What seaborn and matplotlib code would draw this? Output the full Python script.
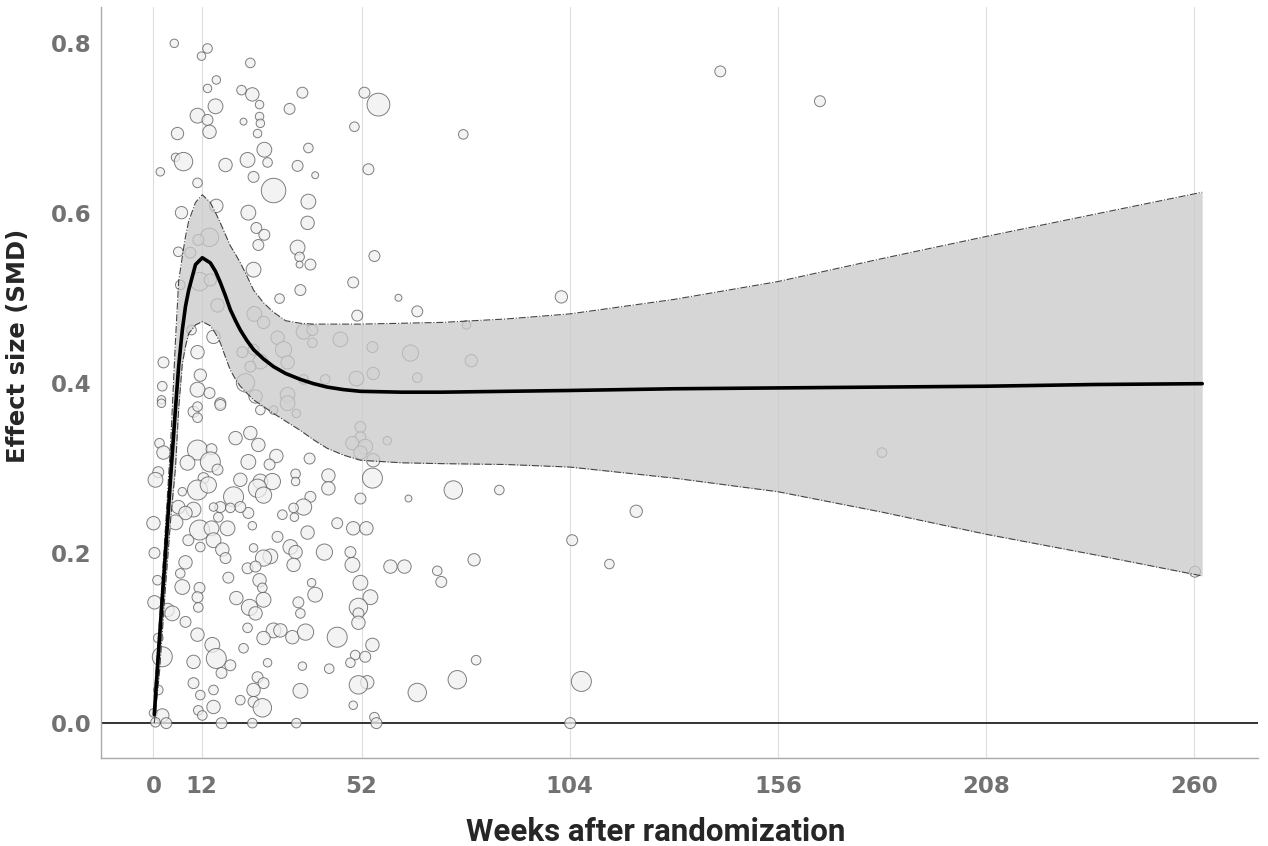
import numpy as np
import pandas as pd
import matplotlib
matplotlib.use('Agg')
import matplotlib.pyplot as plt
import seaborn as sns

# Study-level effect sizes (weeks, SMD, relative weight)
study_weeks = [
    5.2, 13.5, 12.0, 24.2, 15.7, 13.5, 22.0, 24.7, 26.5, 37.2, 15.5, 11.0, 13.5, 34.0, 52.7, 56.2,
    22.5, 26.5, 26.7, 14.0, 6.0, 50.2, 26.0, 27.7, 38.7, 5.5, 7.5, 18.0, 23.5, 28.5, 36.0, 1.7,
    53.7, 40.4, 25.0, 11.0, 30.0, 38.7, 15.7, 7.0, 23.7, 25.7, 38.5, 27.7, 14.0, 11.2, 26.2, 6.2,
    9.2, 36.0, 36.5, 39.2, 36.5, 55.2, 11.5, 14.2, 25.0, 6.7, 49.9, 36.7, 61.2, 31.5, 16.0, 25.2,
    50.9, 65.9, 27.5, 37.5, 39.7, 9.5, 15.0, 31.0, 46.7, 54.7, 64.2, 11.0, 22.2, 25.0, 32.5, 39.7,
    26.7, 24.2, 33.5, 2.5, 11.7, 50.7, 54.9, 2.2, 11.0, 14.0, 23.0, 25.5, 33.5, 37.5, 16.7, 2.0,
    42.9, 65.9, 10.0, 26.7, 30.0,
    2.0, 11.0, 16.7, 33.5, 35.7, 11.0, 1.5, 2.5, 11.0, 14.5, 14.2, 26.2, 24.2, 20.5, 30.7, 39.0,
    23.7, 29.0, 8.5, 1.2, 16.0, 12.5, 0.5, 7.2, 21.7, 26.7, 29.7, 35.5, 35.5, 43.7, 43.7, 51.7,
    54.7, 63.7, 58.4, 51.7, 51.7, 49.7, 52.9, 51.7, 54.9, 11.0, 13.7, 20.0, 26.0, 27.5, 39.2, 37.5,
    35.0, 32.2, 35.2, 16.7, 15.0, 10.0, 6.2, 8.0, 23.7, 21.7, 19.2, 16.2, 0.0, 5.5, 11.5, 14.5,
    18.5, 24.7, 31.0, 38.5, 45.9, 49.9, 53.2, 8.7, 11.7, 15.0, 17.2, 18.0, 25.0, 29.2, 27.5, 34.2,
    35.5, 35.0, 42.7, 49.2, 49.7, 59.2, 62.7, 0.25, 8.0, 6.7, 1.0, 7.2, 11.5, 18.7, 23.5, 25.5,
    26.5, 27.2, 39.5, 40.4, 51.7, 54.2, 51.2, 0.25, 11.0, 20.7, 27.5, 36.2, 3.5, 4.7, 11.2, 24.0,
    25.5, 36.7, 51.2, 8.0, 51.2, 23.5, 30.0, 31.7, 34.7, 38.0, 27.5, 45.9, 11.0, 1.2, 2.2, 14.7,
    22.5, 54.7, 50.4, 52.9, 10.0, 15.7, 19.2, 28.5, 37.2, 43.9, 49.2, 17.0, 53.4, 51.2, 26.0, 27.5,
    25.0, 1.2, 10.0, 11.7, 15.0, 36.7, 21.7, 25.0, 27.2, 49.9, 65.9, 11.2, 15.0, 0.0, 2.2, 55.2,
    55.7, 3.2, 17.0, 24.7, 35.7, 0.5, 12.2,
    78.2, 79.4, 101.9, 74.9, 86.4, 120.6, 104.6, 113.9, 70.9, 71.9, 80.1, 182.0, 260.2, 80.6, 75.9,
    106.9, 104.1, 77.4, 141.6, 166.5,
]
study_smd = [
    0.799, 0.793, 0.784, 0.776, 0.756, 0.746, 0.744, 0.739, 0.727, 0.741, 0.725, 0.714, 0.709, 0.722, 0.741, 0.727,
    0.707, 0.713, 0.705, 0.695, 0.693, 0.701, 0.693, 0.674, 0.676, 0.665, 0.660, 0.656, 0.662, 0.659, 0.655, 0.648,
    0.651, 0.644, 0.642, 0.635, 0.626, 0.613, 0.608, 0.600, 0.600, 0.582, 0.588, 0.574, 0.571, 0.568, 0.562, 0.554,
    0.553, 0.559, 0.548, 0.539, 0.539, 0.549, 0.519, 0.521, 0.533, 0.515, 0.518, 0.509, 0.500, 0.499, 0.491, 0.481,
    0.479, 0.484, 0.471, 0.460, 0.462, 0.462, 0.454, 0.453, 0.451, 0.442, 0.435, 0.436, 0.436, 0.439, 0.439, 0.447,
    0.425, 0.419, 0.424, 0.424, 0.409, 0.405, 0.411, 0.396, 0.392, 0.388, 0.400, 0.384, 0.386, 0.404, 0.376, 0.380,
    0.404, 0.406, 0.366, 0.368, 0.368,
    0.376, 0.372, 0.374, 0.376, 0.364, 0.359, 0.329, 0.318, 0.321, 0.322, 0.307, 0.327, 0.341, 0.335, 0.314, 0.311,
    0.307, 0.304, 0.306, 0.295, 0.298, 0.288, 0.286, 0.272, 0.286, 0.284, 0.284, 0.293, 0.284, 0.291, 0.276, 0.264,
    0.288, 0.264, 0.332, 0.348, 0.336, 0.329, 0.325, 0.318, 0.309, 0.274, 0.280, 0.266, 0.276, 0.268, 0.266, 0.254,
    0.253, 0.245, 0.242, 0.254, 0.254, 0.251, 0.254, 0.247, 0.247, 0.254, 0.253, 0.242, 0.235, 0.236, 0.227, 0.229,
    0.229, 0.232, 0.219, 0.224, 0.235, 0.229, 0.229, 0.215, 0.207, 0.215, 0.204, 0.194, 0.206, 0.196, 0.194, 0.207,
    0.201, 0.186, 0.201, 0.201, 0.186, 0.184, 0.184, 0.200, 0.189, 0.176, 0.168, 0.160, 0.159, 0.171, 0.182, 0.184,
    0.168, 0.159, 0.165, 0.151, 0.165, 0.148, 0.136, 0.142, 0.148, 0.147, 0.145, 0.142, 0.133, 0.129, 0.136, 0.136,
    0.129, 0.129, 0.129, 0.119, 0.118, 0.112, 0.109, 0.109, 0.101, 0.107, 0.100, 0.101, 0.104, 0.100, 0.078, 0.092,
    0.088, 0.092, 0.080, 0.078, 0.072, 0.076, 0.068, 0.071, 0.067, 0.064, 0.071, 0.059, 0.048, 0.045, 0.054, 0.047,
    0.039, 0.039, 0.047, 0.033, 0.039, 0.038, 0.027, 0.025, 0.018, 0.021, 0.036, 0.015, 0.019, 0.012, 0.009, 0.007,
    0.0, 0.0, 0.0, 0.0, 0.0, 0.001, 0.009,
    0.468, 0.426, 0.501, 0.274, 0.274, 0.249, 0.215, 0.187, 0.179, 0.166, 0.192, 0.318, 0.178, 0.074, 0.051,
    0.049, 0.0, 0.692, 0.766, 0.731,
]
study_weight = [
    18, 23, 18, 23, 18, 18, 23, 45, 18, 30, 55, 55, 30, 30, 30, 130,
    12, 18, 18, 45, 38, 23, 18, 55, 23, 18, 85, 45, 55, 23, 30, 18,
    30, 12, 30, 23, 150, 55, 45, 38, 55, 30, 45, 30, 85, 30, 30, 23,
    30, 55, 23, 30, 12, 30, 85, 38, 55, 23, 30, 30, 12, 23, 45, 55,
    30, 30, 38, 55, 30, 23, 45, 45, 55, 30, 66, 45, 30, 30, 66, 23,
    55, 30, 45, 30, 38, 55, 38, 23, 55, 30, 85, 45, 55, 23, 30, 18,
    23, 23, 30, 23, 18,
    18, 23, 30, 55, 18, 23, 23, 45, 100, 30, 100, 45, 45, 45, 45, 30,
    55, 30, 55, 30, 30, 30, 55, 18, 45, 55, 66, 23, 18, 45, 45, 30,
    100, 12, 18, 30, 30, 45, 55, 45, 45, 100, 66, 100, 85, 66, 30, 66,
    23, 23, 18, 30, 18, 55, 45, 45, 30, 30, 23, 23, 45, 55, 100, 55,
    55, 18, 30, 45, 30, 45, 45, 30, 23, 55, 45, 30, 18, 55, 66, 55,
    45, 45, 66, 30, 55, 45, 45, 30, 45, 23, 23, 55, 30, 30, 30, 30,
    45, 23, 18, 55, 55, 55, 85, 45, 30, 45, 55, 30, 45, 55, 23, 66,
    45, 23, 30, 30, 45, 23, 55, 45, 45, 66, 45, 100, 45, 23, 100, 55,
    23, 45, 23, 30, 45, 100, 30, 18, 18, 23, 23, 30, 45, 85, 30, 30,
    45, 23, 30, 23, 23, 55, 23, 30, 85, 18, 85, 23, 45, 18, 45, 23,
    30, 30, 30, 23, 23, 23, 23,
    18, 38, 38, 85, 23, 38, 30, 23, 23, 30, 38, 23, 30, 23, 85,
    100, 30, 23, 30, 30,
]

# Fitted spline with confidence band
fit_weeks = [0.2, 1.5, 3.0, 4.3, 5.5, 6.3, 7.2, 8.0, 8.8, 10.5, 12.2, 14.2, 15.5, 16.7, 18.0, 19.2,
             20.5, 21.7, 23.3, 25, 27.5, 30, 33, 36.7, 40, 43.4, 47.5, 51.7, 62, 72, 88, 104,
             130, 156, 182, 208, 235, 262]
fit_smd = [0.01, 0.10, 0.20, 0.29, 0.37, 0.42, 0.462, 0.49, 0.509, 0.539, 0.547, 0.541, 0.531, 0.518,
           0.502, 0.486, 0.473, 0.462, 0.450, 0.439, 0.428, 0.419, 0.411, 0.404, 0.399, 0.395, 0.392,
           0.390, 0.389, 0.389, 0.390, 0.391, 0.393, 0.394, 0.395, 0.396, 0.398, 0.399]
fit_upper = [0.03, 0.12, 0.23, 0.33, 0.45, 0.52, 0.548, 0.572, 0.59, 0.612, 0.621, 0.612, 0.60, 0.588,
             0.574, 0.561, 0.551, 0.541, 0.526, 0.509, 0.494, 0.483, 0.473, 0.470, 0.469, 0.469, 0.469,
             0.469, 0.470, 0.471, 0.475, 0.481, 0.498, 0.519, 0.546, 0.572, 0.598, 0.624]
fit_lower = [0.0, 0.06, 0.16, 0.24, 0.30, 0.37, 0.422, 0.443, 0.458, 0.468, 0.472, 0.467, 0.458, 0.447,
             0.430, 0.415, 0.404, 0.396, 0.388, 0.380, 0.372, 0.364, 0.355, 0.344, 0.333, 0.323, 0.315,
             0.309, 0.306, 0.305, 0.304, 0.301, 0.288, 0.272, 0.248, 0.222, 0.198, 0.173]

x_ticks = [0, 12, 52, 104, 156, 208, 260]
y_ticks = [0.0, 0.2, 0.4, 0.6, 0.8]

sns.set_style('white')
plt.rcParams['font.family'] = ['DejaVu Sans']

studies = pd.DataFrame({'weeks': study_weeks, 'smd': study_smd, 'weight': study_weight})
fit = pd.DataFrame({'weeks': fit_weeks, 'smd': fit_smd, 'lower': fit_lower, 'upper': fit_upper})

fig = plt.figure(figsize=(12.68, 8.46), dpi=100)
ax = fig.add_axes([0.08, 0.104, 0.912, 0.888])

for xt in x_ticks:
    ax.axvline(xt, color='#dedede', lw=0.8, zorder=0)

sns.scatterplot(data=studies, x='weeks', y='smd', size='weight',
                sizes=(2.07 * 12, 2.07 * 150), size_norm=(12, 150),
                color='#efefef', edgecolor='#555555', linewidth=0.7, alpha=0.75,
                legend=False, ax=ax, zorder=2)

ax.fill_between(fit['weeks'], fit['lower'], fit['upper'], color='#c9c9c9', alpha=0.75,
                lw=0, zorder=3)
ax.plot(fit['weeks'], fit['upper'], color='#444444', lw=0.8, ls='-.', zorder=4)
ax.plot(fit['weeks'], fit['lower'], color='#444444', lw=0.8, ls='-.', zorder=4)
sns.lineplot(data=fit, x='weeks', y='smd', color='black', lw=2.6, ax=ax, zorder=5)

ax.axhline(0, color='#222222', lw=1.3, zorder=1)

ax.set_xlim(-13, 275.9)
ax.set_ylim(-0.041, 0.842)
ax.set_xticks(x_ticks)
ax.set_yticks(y_ticks)
ax.set_yticklabels([f'{v:.1f}' for v in y_ticks])
ax.tick_params(length=0, labelsize=16.5, labelcolor='#727272')
ax.tick_params(axis='x', pad=12)
ax.tick_params(axis='y', pad=7)
for lab in ax.get_xticklabels() + ax.get_yticklabels():
    lab.set_fontweight('bold')

ax.set_xlabel('Weeks after randomization', fontsize=22.5, fontweight='bold',
              family=['Roboto', 'DejaVu Sans'])
ax.set_ylabel('Effect size (SMD)', fontsize=17.5, fontweight='bold')
ax.xaxis.set_label_coords(0.479, -0.078)
ax.yaxis.set_label_coords(-0.0614, 0.549)

sns.despine(ax=ax)
for side in ['left', 'bottom']:
    ax.spines[side].set_color('#aaaaaa')
    ax.spines[side].set_linewidth(1.0)

fig.savefig('out.png', dpi=100)
